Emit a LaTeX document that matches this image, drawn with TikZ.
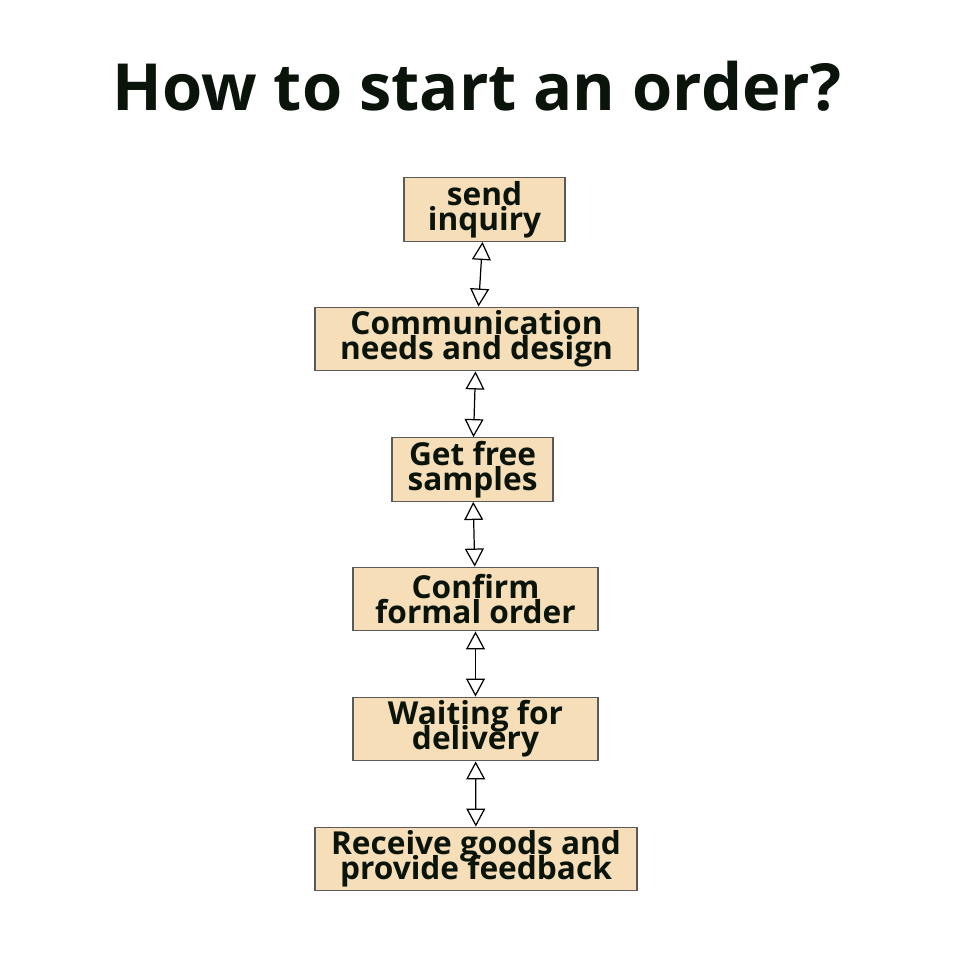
\documentclass[tikz,border=0pt]{standalone}
\usepackage{fontspec}
\setmainfont{Open Sans}
\usepackage{tikz}
\usetikzlibrary{arrows.meta,positioning}
\definecolor{BoxFill}{HTML}{F5DEB8}
\definecolor{BoxLine}{HTML}{5A5A5A}
\definecolor{InkDark}{HTML}{0A140A}
\newcommand\tightlines{\lineskiplimit=-20pt\relax}
\tikzset{
  % Step box
  SB/.style={rectangle,draw=BoxLine,line width=0.8pt,fill=BoxFill,
             minimum height=1.27cm,inner sep=0pt,
             text centered,align=center,text=InkDark,
             font=\fontsize{18}{14.2}\selectfont\bfseries\tightlines},
  % Double arrow
  darr/.style={{Triangle[open,length=0.36cm,width=0.38cm]}-{Triangle[open,length=0.36cm,width=0.38cm]},
               line width=0.7pt,draw=black}
}
\begin{document}
\begin{tikzpicture}[x=0.02cm,y=-0.02cm]
  \useasboundingbox (0,0) rectangle (960,960);
  \node[text=InkDark,font=\fontsize{37}{40}\selectfont\bfseries] (title) at (477,86) {How to start an order?};
  \node[SB,minimum width=3.22cm] (inquiry) at (484.5,209.5) {send\\inquiry};
  \node[SB,minimum width=6.46cm] (design) at (476.5,339) {Communication\\needs and design};
  \node[SB,minimum width=3.22cm] (samples) at (472.5,469.5) {Get free\\samples};
  \node[SB,minimum width=4.90cm] (confirm) at (475.5,599) {Confirm\\formal order};
  \node[SB,minimum width=4.90cm] (waiting) at (475.5,729) {Waiting for\\delivery};
  \node[SB,minimum width=6.44cm] (receive) at (476,859) {Receive goods and\\provide feedback};
  \draw[darr](inquiry)--(design);
  \draw[darr](design)--(samples);
  \draw[darr](samples)--(confirm);
  \draw[darr](confirm)--(waiting);
  \draw[darr](waiting)--(receive);
\end{tikzpicture}
\end{document}
